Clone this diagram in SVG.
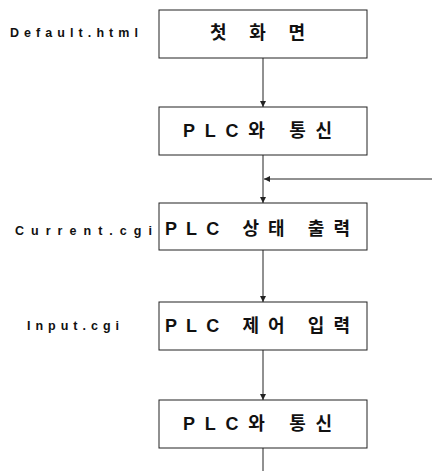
<svg xmlns="http://www.w3.org/2000/svg" width="432" height="471" viewBox="0 0 432 471">
<style>
.box{fill:#fff;stroke:#222;stroke-width:1}
.t{font-family:"Liberation Sans","Noto Sans CJK KR",sans-serif;font-weight:bold;font-size:18px;fill:#111;text-anchor:start}
.lbl{font-family:"Liberation Sans",sans-serif;font-weight:bold;font-size:12.5px;fill:#111}
.c{stroke:#222;stroke-width:1;fill:none}
</style>
<defs>
<marker id="ah" viewBox="0 0 8 8" refX="8" refY="4" markerWidth="6" markerHeight="6" orient="auto" markerUnits="userSpaceOnUse">
<path d="M0,0 L8,4 L0,8 Z" fill="#222"/>
</marker>
</defs>
<rect width="432" height="471" fill="#fff"/>
<g id="connectors">
<line class="c" x1="263" y1="58" x2="263" y2="107" marker-end="url(#ah)"/>
<line class="c" x1="263" y1="155" x2="263" y2="203" marker-end="url(#ah)"/>
<line class="c" x1="432" y1="179" x2="264" y2="179" marker-end="url(#ah)"/>
<line class="c" x1="263" y1="250" x2="263" y2="302" marker-end="url(#ah)"/>
<line class="c" x1="263" y1="350" x2="263" y2="400" marker-end="url(#ah)"/>
<line class="c" x1="263" y1="448" x2="263" y2="471"/>
</g>
<g id="label-default"><text class="lbl" x="10" y="36.5" textLength="128" lengthAdjust="spacing">Default.html</text></g>
<g id="label-current"><text class="lbl" x="15" y="234.5" textLength="137" lengthAdjust="spacing">Current.cgi</text></g>
<g id="label-input"><text class="lbl" x="27" y="329.5" textLength="92" lengthAdjust="spacing">Input.cgi</text></g>
<g id="n1"><rect class="box" x="159" y="10" width="208" height="48"/><text class="t" x="210" y="39" textLength="95" lengthAdjust="spacing">첫 화 면</text></g>
<g id="n2"><rect class="box" x="159" y="107" width="208" height="48"/><text class="t" x="183" y="137" textLength="149" lengthAdjust="spacing">PLC와 통신</text></g>
<g id="n3"><rect class="box" x="159" y="203" width="208" height="47"/><text class="t" x="165" y="235" textLength="185" lengthAdjust="spacing">PLC 상태 출력</text></g>
<g id="n4"><rect class="box" x="159" y="302" width="208" height="48"/><text class="t" x="165" y="332" textLength="185" lengthAdjust="spacing">PLC 제어 입력</text></g>
<g id="n5"><rect class="box" x="159" y="400" width="208" height="48"/><text class="t" x="183" y="430" textLength="149" lengthAdjust="spacing">PLC와 통신</text></g>
</svg>
